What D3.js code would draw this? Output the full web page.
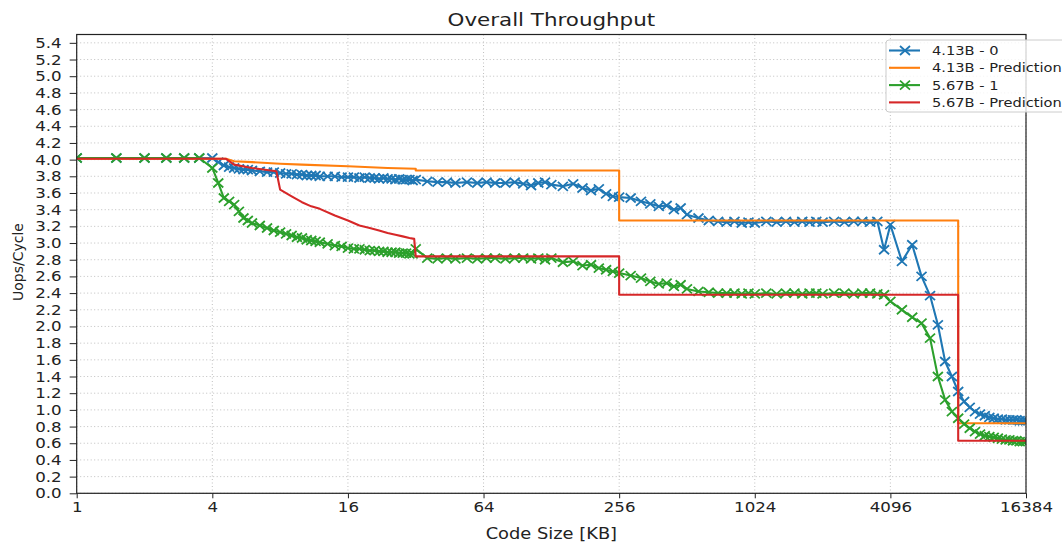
<!DOCTYPE html>
<html>
<head>
<meta charset="utf-8">
<script src="https://cdn.jsdelivr.net/npm/d3@7"></script>
<style>
  body { margin: 0; background: #fff; }
  svg { display: block; font-family: "DejaVu Sans", sans-serif; }
</style>
</head>
<body>
<svg id="chart" width="1062" height="546"></svg>
<script>
// [code size in KB, uops/cycle]
const run413 = [
  [1, 4.02], [1.5, 4.02], [2, 4.02], [2.5, 4.02], [3, 4.02], [3.5, 4.02], [4, 4.02],
  [4.25, 3.97], [4.5, 3.93], [4.75, 3.91], [5, 3.90], [5.25, 3.89], [5.5, 3.88], [5.75, 3.88],
  [6, 3.87], [6.5, 3.86], [7, 3.85], [7.5, 3.85], [8, 3.84],
  [8.5, 3.83], [9, 3.83], [9.5, 3.82], [10, 3.82], [10.5, 3.81], [11, 3.81], [11.5, 3.81],
  [12, 3.80], [13, 3.80], [14, 3.80], [15, 3.79], [16, 3.79],
  [17, 3.79], [18, 3.78], [19, 3.79], [20, 3.78], [21, 3.78], [22, 3.77], [23, 3.78], [24, 3.77],
  [25, 3.77], [26, 3.76], [27, 3.77], [28, 3.76], [29, 3.76], [30, 3.76], [31, 3.75], [32, 3.76],
  [36, 3.74], [40, 3.73], [44, 3.73], [48, 3.72], [54, 3.73], [60, 3.72], [66, 3.73], [72, 3.72],
  [80, 3.72], [88, 3.73], [96, 3.71], [104, 3.69], [112, 3.72], [120, 3.73], [128, 3.70],
  [144, 3.68], [160, 3.71], [176, 3.66], [192, 3.63], [208, 3.65], [224, 3.59], [240, 3.56], [256, 3.55],
  [288, 3.54], [320, 3.50], [352, 3.47], [384, 3.44], [416, 3.45], [448, 3.40], [480, 3.42], [512, 3.34],
  [576, 3.30], [640, 3.27], [704, 3.26], [768, 3.25], [832, 3.26], [896, 3.24], [960, 3.25], [1024, 3.24],
  [1152, 3.26], [1280, 3.25], [1408, 3.26], [1536, 3.25], [1664, 3.26], [1792, 3.25], [1920, 3.26], [2048, 3.25],
  [2304, 3.26], [2560, 3.25], [2816, 3.26], [3072, 3.26], [3328, 3.25], [3584, 3.26], [3840, 2.92], [4096, 3.22],
  [4608, 2.78], [5120, 2.98], [5632, 2.60], [6144, 2.37], [6656, 2.02], [7168, 1.58], [7680, 1.40], [8192, 1.22],
  [8704, 1.10], [9216, 1.03], [9728, 0.98], [10240, 0.95], [10752, 0.93], [11264, 0.91], [11776, 0.90],
  [12288, 0.89], [12800, 0.89], [13312, 0.88], [13824, 0.88], [14336, 0.88], [14848, 0.88], [15360, 0.87],
  [15872, 0.87], [16384, 0.87]
];

const pred413 = [
  [1, 4.01], [4.6, 4.01], [5, 3.98], [6, 3.97], [8, 3.95], [10, 3.94], [16, 3.92], [24, 3.90], [32, 3.89],
  [32, 3.87], [256, 3.87], [256, 3.27], [8192, 3.27], [8192, 0.84], [16384, 0.84]
];

const run567 = [
  [1, 4.02], [1.5, 4.02], [2, 4.02], [2.5, 4.02], [3, 4.02], [3.5, 4.02], [4, 3.90],
  [4.25, 3.72], [4.5, 3.54], [4.75, 3.50], [5, 3.46], [5.25, 3.38], [5.5, 3.30], [5.75, 3.27],
  [6, 3.24], [6.5, 3.21], [7, 3.18], [7.5, 3.15], [8, 3.13],
  [8.5, 3.11], [9, 3.09], [9.5, 3.07], [10, 3.06], [10.5, 3.04], [11, 3.03], [11.5, 3.02],
  [12, 3.01], [13, 2.99], [14, 2.97], [15, 2.96], [16, 2.94],
  [17, 2.93], [18, 2.93], [19, 2.92], [20, 2.91], [21, 2.91], [22, 2.90], [23, 2.90], [24, 2.89],
  [25, 2.89], [26, 2.89], [27, 2.88], [28, 2.88], [29, 2.88], [30, 2.87], [31, 2.87], [32, 2.93],
  [36, 2.82], [40, 2.81], [44, 2.82], [48, 2.81], [54, 2.82], [60, 2.81], [66, 2.82], [72, 2.82],
  [80, 2.81], [88, 2.82], [96, 2.82], [104, 2.81], [112, 2.82], [120, 2.80], [128, 2.82],
  [144, 2.77], [160, 2.78], [176, 2.73], [192, 2.74], [208, 2.70], [224, 2.68], [240, 2.66], [256, 2.64],
  [288, 2.61], [320, 2.58], [352, 2.54], [384, 2.51], [416, 2.52], [448, 2.48], [480, 2.50], [512, 2.45],
  [576, 2.42], [640, 2.41], [704, 2.40], [768, 2.40], [832, 2.40], [896, 2.39], [960, 2.40], [1024, 2.39],
  [1152, 2.40], [1280, 2.39], [1408, 2.40], [1536, 2.40], [1664, 2.39], [1792, 2.40], [1920, 2.40], [2048, 2.39],
  [2304, 2.40], [2560, 2.40], [2816, 2.39], [3072, 2.40], [3328, 2.40], [3584, 2.39], [3840, 2.38], [4096, 2.30],
  [4608, 2.20], [5120, 2.11], [5632, 2.04], [6144, 1.86], [6656, 1.40], [7168, 1.12], [7680, 0.98], [8192, 0.90],
  [8704, 0.83], [9216, 0.78], [9728, 0.74], [10240, 0.71], [10752, 0.69], [11264, 0.68], [11776, 0.67],
  [12288, 0.66], [12800, 0.65], [13312, 0.64], [13824, 0.64], [14336, 0.63], [14848, 0.63], [15360, 0.62],
  [15872, 0.62], [16384, 0.62]
];

const pred567 = [
  [1, 4.01], [4.6, 4.01], [5, 3.94], [6, 3.90], [7.7, 3.86], [8, 3.64], [9, 3.56], [10, 3.49],
  [11, 3.44], [12, 3.41], [14, 3.33], [16, 3.27], [18, 3.21], [20, 3.18], [22, 3.15], [24, 3.12],
  [26, 3.10], [28, 3.08], [30, 3.06], [31.5, 3.05], [32, 2.84],
  [256, 2.84], [256, 2.38], [8192, 2.38], [8192, 0.63], [16384, 0.63]
];

const seriesNames = ["4.13B - 0", "4.13B - Prediction", "5.67B - 1", "5.67B - Prediction"];
const seriesColors = ["#1f77b4", "#ff7f0e", "#2ca02c", "#d62728"];
const sizeTicks = [1, 4, 16, 64, 256, 1024, 4096, 16384];
const uopsTicks = [0, 0.2, 0.4, 0.6, 0.8, 1.0, 1.2, 1.4, 1.6, 1.8, 2.0, 2.2, 2.4, 2.6, 2.8,
                   3.0, 3.2, 3.4, 3.6, 3.8, 4.0, 4.2, 4.4, 4.6, 4.8, 5.0, 5.2, 5.4];

var series = [
  {name: seriesNames[0], color: seriesColors[0], values: run413, marker: true},
  {name: seriesNames[1], color: seriesColors[1], values: pred413, marker: false},
  {name: seriesNames[2], color: seriesColors[2], values: run567, marker: true},
  {name: seriesNames[3], color: seriesColors[3], values: pred567, marker: false}
];

var plotLeft = 76.7, plotRight = 1026, plotTop = 34.5, plotBottom = 493.3;
var stretch = 1.19; // text in the picture runs wider than it is tall
var xMark = "M-5,-4.5L5,4.5M-5,4.5L5,-4.5";

var svg = d3.select("#chart");

var xScale = d3.scaleLog().base(2).domain([1, 16384]).range([plotLeft, plotRight]);
var yScale = d3.scaleLinear().domain([0, 5.5]).range([plotBottom, plotTop]);

/* grid */
var grid = svg.append("g").attr("class", "grid")
  .attr("stroke", "#b0b0b0").attr("stroke-width", 0.8).attr("stroke-dasharray", "1,2.5");
grid.selectAll(".gy").data(uopsTicks).enter().append("line")
  .attr("x1", plotLeft).attr("x2", plotRight)
  .attr("y1", d => yScale(d)).attr("y2", d => yScale(d));
grid.selectAll(".gx").data(sizeTicks).enter().append("line")
  .attr("x1", d => xScale(d)).attr("x2", d => xScale(d))
  .attr("y1", plotTop).attr("y2", plotBottom);

/* lines */
svg.append("clipPath").attr("id", "plotclip")
  .append("rect").attr("x", plotLeft).attr("y", plotTop)
  .attr("width", plotRight - plotLeft).attr("height", plotBottom - plotTop);

var line = d3.line()
  .x(d => xScale(d[0]))
  .y(d => yScale(d[1]));

var lines = svg.append("g").attr("clip-path", "url(#plotclip)");
series.forEach(function(s) {
  lines.append("path")
    .attr("d", line(s.values))
    .attr("fill", "none")
    .attr("stroke", s.color)
    .attr("stroke-width", 2.1)
    .attr("stroke-linejoin", "round");
  if (s.marker) {
    lines.append("g").selectAll("path")
      .data(s.values).enter()
      .append("path")
      .attr("d", xMark)
      .attr("transform", d => `translate(${xScale(d[0])},${yScale(d[1])})`)
      .attr("fill", "none")
      .attr("stroke", s.color)
      .attr("stroke-width", 1.8);
  }
});

/* axes */
var xAxis = d3.axisBottom(xScale).tickValues(sizeTicks).tickFormat(d3.format("d")).tickSize(5).tickPadding(4);
var yAxis = d3.axisLeft(yScale).tickValues(uopsTicks).tickFormat(d3.format(".1f")).tickSize(7).tickPadding(8);

var gx = svg.append("g").attr("transform", `translate(0,${plotBottom})`).call(xAxis);
gx.select(".domain").remove();
gx.selectAll("line").attr("stroke", "#222");
gx.selectAll("text")
  .attr("font-size", 14).attr("fill", "#222")
  .attr("transform", `scale(${stretch},1)`);

var gy = svg.append("g").attr("transform", `translate(${plotLeft},0)`).call(yAxis);
gy.select(".domain").remove();
gy.selectAll("line").attr("stroke", "#222");
gy.selectAll("text")
  .attr("font-size", 14).attr("fill", "#222")
  .attr("x", -15 / stretch)
  .attr("transform", `scale(${stretch},1)`);

svg.selectAll(".tick text").attr("font-family", "DejaVu Sans");

svg.append("rect")
  .attr("x", plotLeft).attr("y", plotTop)
  .attr("width", plotRight - plotLeft).attr("height", plotBottom - plotTop)
  .attr("fill", "none").attr("stroke", "#222").attr("stroke-width", 1.2);

/* titles */
svg.append("text")
  .attr("transform", `translate(${(plotLeft + plotRight) / 2},26) scale(${stretch},1)`)
  .attr("text-anchor", "middle").attr("font-size", 18).attr("fill", "#222")
  .text("Overall Throughput");

svg.append("text")
  .attr("transform", `translate(${(plotLeft + plotRight) / 2},538.5) scale(${stretch},1)`)
  .attr("text-anchor", "middle").attr("font-size", 15).attr("fill", "#222")
  .text("Code Size [KB]");

svg.append("text")
  .attr("transform", "translate(23,262) rotate(-90)")
  .attr("text-anchor", "middle").attr("font-size", 14).attr("fill", "#222")
  .text("Uops/Cycle");

/* legend */
var legend = svg.append("g").attr("transform", "translate(886,40)");
legend.append("rect")
  .attr("width", 190).attr("height", 72).attr("rx", 3)
  .attr("fill", "#fff").attr("fill-opacity", 0.8)
  .attr("stroke", "#cccccc").attr("stroke-width", 1);

var item = legend.selectAll(".item").data(series).enter().append("g")
  .attr("transform", (d, i) => `translate(0,${10.5 + i * 17.3})`);
item.append("line")
  .attr("x1", 3).attr("x2", 34)
  .attr("stroke", d => d.color).attr("stroke-width", 2.1);
item.filter(d => d.marker).append("path")
  .attr("d", xMark).attr("transform", "translate(19,0)")
  .attr("fill", "none").attr("stroke", d => d.color).attr("stroke-width", 1.8);
item.append("text")
  .attr("transform", `translate(46,4.5) scale(${stretch},1)`)
  .attr("font-size", 12.3).attr("fill", "#222")
  .text(d => d.name);
</script>
</body>
</html>
